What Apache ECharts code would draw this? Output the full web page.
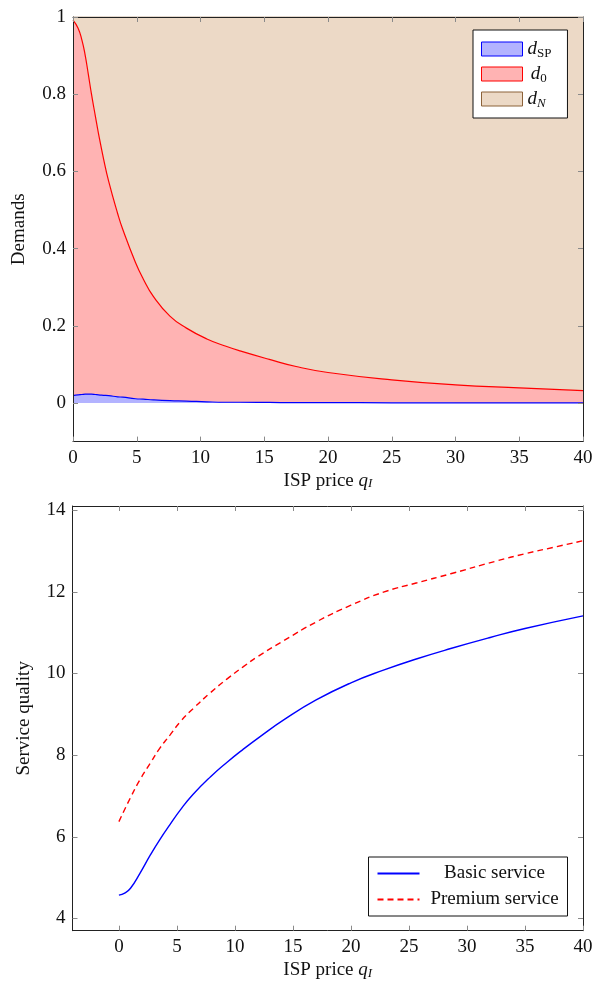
<!DOCTYPE html>
<html>
<head>
<meta charset="utf-8">
<script src="https://cdn.jsdelivr.net/npm/echarts@6/dist/echarts.min.js"></script>
<style>
html,body{margin:0;padding:0;background:#fff;}
#c{width:600px;height:981px;}
</style>
</head>
<body>
<div id="c"></div>
<script>
// ---- Top chart: demands vs ISP price ----
const priceX = [0, 0.4, 0.7, 0.95, 1.2, 1.45, 1.75, 2, 2.4, 2.8, 3.5, 3.9, 4.9, 5.5, 6.3, 7.6, 8.9, 10.5, 12, 13.1, 15.4, 17.5, 20, 25, 30, 35, 40];
const dSP = [0.019, 0.021, 0.022, 0.023, 0.023, 0.023, 0.022, 0.021, 0.020, 0.019, 0.016, 0.015, 0.011, 0.010, 0.008, 0.006, 0.005, 0.003, 0.002, 0.002, 0.0015, 0.001, 0.001, 0.0005, 0.0003, 0.0002, 0.0001];
const d0 = [0.973, 0.950, 0.918, 0.879, 0.829, 0.777, 0.722, 0.677, 0.612, 0.555, 0.475, 0.435, 0.353, 0.312, 0.268, 0.219, 0.189, 0.163, 0.145, 0.133, 0.1115, 0.0935, 0.078, 0.0595, 0.0467, 0.0388, 0.0319];
const dN = [0.008, 0.029, 0.060, 0.098, 0.148, 0.200, 0.256, 0.302, 0.368, 0.426, 0.509, 0.550, 0.636, 0.678, 0.724, 0.775, 0.806, 0.834, 0.853, 0.865, 0.887, 0.9055, 0.921, 0.940, 0.953, 0.961, 0.968];
const demandTicks = [0, 0.2, 0.4, 0.6, 0.8, 1];

// ---- Bottom chart: service quality vs ISP price ----
const basicX = [0, 0.5, 1, 1.8, 2.7, 3.5, 4.4, 5.3, 6.4, 7.9, 9.3, 10.7, 12.2, 14.3, 17, 20, 22.8, 25.7, 28.6, 32, 35, 40];
const basicQ = [4.57, 4.62, 4.74, 5.10, 5.55, 5.92, 6.30, 6.66, 7.04, 7.47, 7.82, 8.14, 8.46, 8.88, 9.35, 9.77, 10.08, 10.36, 10.61, 10.88, 11.10, 11.41];
const premiumX = [0, 1, 1.8, 2.7, 3.5, 4.4, 5.3, 6.4, 7.9, 9.3, 10.7, 12, 14.2, 17, 20, 22.8, 25.7, 28.6, 32.5, 35, 37.5, 40];
const premiumQ = [6.37, 6.96, 7.39, 7.80, 8.16, 8.49, 8.82, 9.14, 9.53, 9.86, 10.16, 10.42, 10.80, 11.26, 11.67, 11.99, 12.22, 12.44, 12.75, 12.93, 13.09, 13.25];
const priceTicks = [0, 5, 10, 15, 20, 25, 30, 35, 40];
const qualityTicks = [4, 6, 8, 10, 12, 14];

const FONT = 'Liberation Serif';
const FS = 19;
const pair = (xs, ys) => xs.map((x, i) => [x, ys[i]]);
// value first so that the stack is applied on the y dimension
const pairYX = (xs, ys) => xs.map((x, i) => [ys[i], x]);

const tickStyle = {show: true, inside: true, length: 5, lineStyle: {color: '#8a8a8a', width: 1}};
const lineStyleAx = {show: true, lineStyle: {color: '#222', width: 1}};
const labelStyle = {fontFamily: FONT, fontSize: FS, color: '#111'};
const nameRich = {
  i: {fontFamily: FONT, fontSize: FS, fontStyle: 'italic', color: '#111'},
  s: {fontFamily: FONT, fontSize: 13, fontStyle: 'italic', color: '#111', lineHeight: 14, verticalAlign: 'bottom', padding: [9, 0, 0, 0]}
};
const priceName = 'ISP price {i|q}{s|I}';

function xMain(grid, min, max, customTicks) {
  const ax = {
    type: 'value', gridIndex: grid, position: 'bottom', min: min, max: max, z: 5,
    name: priceName, nameLocation: 'middle', nameGap: 26,
    nameTextStyle: {fontFamily: FONT, fontSize: FS, color: '#111', rich: nameRich},
    axisLine: Object.assign({onZero: false}, lineStyleAx),
    axisTick: Object.assign({}, tickStyle),
    axisLabel: Object.assign({margin: 7}, labelStyle),
    splitLine: {show: false}
  };
  if (customTicks) {
    ax.axisTick.customValues = customTicks;
    ax.axisLabel.customValues = customTicks;
  } else {
    ax.interval = 5;
  }
  return ax;
}
function xMirror(grid, min, max, customTicks) {
  const ax = {
    type: 'value', gridIndex: grid, position: 'top', min: min, max: max, z: 5,
    axisLine: Object.assign({onZero: false}, lineStyleAx),
    axisTick: Object.assign({}, tickStyle),
    axisLabel: {show: false},
    splitLine: {show: false}
  };
  if (customTicks) { ax.axisTick.customValues = customTicks; } else { ax.interval = 5; }
  return ax;
}
function yMain(grid, min, max, ticks, name, gap) {
  return {
    type: 'value', gridIndex: grid, position: 'left', min: min, max: max, z: 5,
    name: name, nameLocation: 'middle', nameGap: gap,
    nameTextStyle: {fontFamily: FONT, fontSize: FS, color: '#111'},
    axisLine: Object.assign({onZero: false}, lineStyleAx),
    axisTick: Object.assign({customValues: ticks}, tickStyle),
    axisLabel: Object.assign({margin: 7, customValues: ticks}, labelStyle),
    splitLine: {show: false}
  };
}
function yMirror(grid, min, max, ticks) {
  return {
    type: 'value', gridIndex: grid, position: 'right', min: min, max: max, z: 5,
    axisLine: Object.assign({onZero: false}, lineStyleAx),
    axisTick: Object.assign({customValues: ticks}, tickStyle),
    axisLabel: {show: false},
    splitLine: {show: false}
  };
}

const legendRich = {
  i: {fontFamily: FONT, fontSize: FS, fontStyle: 'italic', color: '#111', lineHeight: 22},
  s: {fontFamily: FONT, fontSize: 13, color: '#111', lineHeight: 13, verticalAlign: 'bottom', padding: [9, 0, 0, 0]},
  si: {fontFamily: FONT, fontSize: 13, fontStyle: 'italic', color: '#111', lineHeight: 13, verticalAlign: 'bottom', padding: [9, 0, 0, 0]},
  c: {fontFamily: FONT, fontSize: FS, color: '#111', width: 140, align: 'center', lineHeight: 22}
};

const option = {
  animation: false,
  backgroundColor: '#ffffff',
  grid: [
    {left: 73, top: 17, width: 510, height: 424.6},
    {left: 72.5, top: 506, width: 510.5, height: 424.7}
  ],
  xAxis: [
    xMain(0, 0, 40, null),
    xMirror(0, 0, 40, null),
    xMain(1, -4, 40, priceTicks),
    xMirror(1, -4, 40, priceTicks)
  ],
  yAxis: [
    yMain(0, -0.1, 1, demandTicks, 'Demands', 44),
    yMirror(0, -0.1, 1, demandTicks),
    yMain(1, 3.7, 14.1, qualityTicks, 'Service quality', 39),
    yMirror(1, 3.7, 14.1, qualityTicks)
  ],
  legend: [
    {
      orient: 'vertical', left: 473, top: 30, padding: [8, 16, 8, 8], itemGap: 3,
      itemWidth: 41, itemHeight: 14, backgroundColor: '#fff', borderColor: '#111', borderWidth: 1,
      selectedMode: false,
      data: [
        {name: 'dSP', icon: 'rect', itemStyle: {color: '#b3b3ff', borderColor: '#0000ff', borderWidth: 1}},
        {name: 'd0', icon: 'rect', itemStyle: {color: '#ffb3b3', borderColor: '#ff0000', borderWidth: 1}},
        {name: 'dN', icon: 'rect', itemStyle: {color: '#ecd9c6', borderColor: '#8c6239', borderWidth: 1}}
      ],
      formatter: function (n) {
        if (n === 'dSP') return '{i|d}{s|SP}';
        if (n === 'd0') return ' {i|d}{s|0}';
        return '{i|d}{si|N}';
      },
      textStyle: {rich: legendRich}
    },
    {
      orient: 'vertical', left: 368.5, top: 857, padding: [7, 3, 7, 8], itemGap: 7,
      itemWidth: 42, itemHeight: 14, backgroundColor: '#fff', borderColor: '#111', borderWidth: 1,
      selectedMode: false,
      itemStyle: {opacity: 0},
      data: ['Basic service', 'Premium service'],
      formatter: function (n) { return '{c|' + n + '}'; },
      textStyle: {rich: legendRich}
    }
  ],
  series: [
    {
      name: 'dSP', type: 'line', xAxisIndex: 0, yAxisIndex: 0, stack: 'demand',
      encode: {x: 1, y: 0},
      data: pairYX(priceX, dSP), symbol: 'none', smooth: 0.5,
      lineStyle: {color: '#0000ff', width: 1.2}, itemStyle: {color: '#0000ff'},
      areaStyle: {color: '#b3b3ff', opacity: 1}, z: 3
    },
    {
      name: 'd0', type: 'line', xAxisIndex: 0, yAxisIndex: 0, stack: 'demand',
      encode: {x: 1, y: 0},
      data: pairYX(priceX, d0), symbol: 'none', smooth: 0.5,
      lineStyle: {color: '#ff0000', width: 1.2}, itemStyle: {color: '#ff0000'},
      areaStyle: {color: '#ffb3b3', opacity: 1}, z: 2
    },
    {
      name: 'dN', type: 'line', xAxisIndex: 0, yAxisIndex: 0, stack: 'demand',
      encode: {x: 1, y: 0},
      data: pairYX(priceX, dN), symbol: 'none', smooth: 0.5,
      lineStyle: {color: '#8c6239', width: 1}, itemStyle: {color: '#8c6239'},
      areaStyle: {color: '#ecd9c6', opacity: 1}, z: 1
    },
    {
      name: 'Basic service', type: 'line', xAxisIndex: 2, yAxisIndex: 2,
      data: pair(basicX, basicQ), symbol: 'none', smooth: 0.5,
      lineStyle: {color: '#0000ff', width: 1.4}, itemStyle: {color: '#0000ff'}
    },
    {
      name: 'Premium service', type: 'line', xAxisIndex: 2, yAxisIndex: 2,
      data: pair(premiumX, premiumQ), symbol: 'none', smooth: 0.5,
      lineStyle: {color: '#ff0000', width: 1.4, type: [6, 4]}, itemStyle: {color: '#ff0000'}
    }
  ]
};

const chart = echarts.init(document.getElementById('c'), null, {renderer: 'canvas'});
chart.setOption(option);
</script>
</body>
</html>
